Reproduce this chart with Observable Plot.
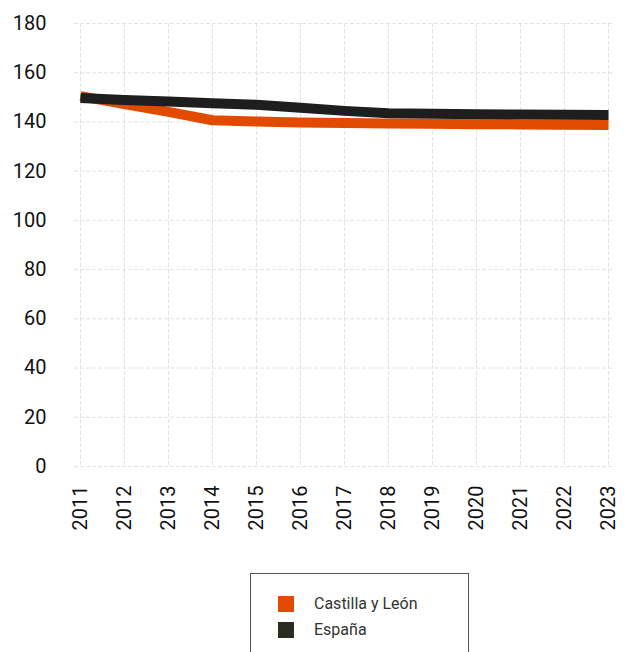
<!DOCTYPE html>
<html>
<head>
<meta charset="utf-8">
<script src="https://cdn.jsdelivr.net/npm/d3@7"></script>
<script src="https://cdn.jsdelivr.net/npm/@observablehq/plot@0.6"></script>
<style>
  html, body { margin: 0; padding: 0; background: #fff; overflow: hidden; }
  body { width: 625px; height: 652px; font-family: Roboto, "Noto Sans", sans-serif; }
  #chart svg { display: block; overflow: visible; }
  #legend {
    position: absolute; left: 250px; top: 573px; width: 219px; height: 100px;
    border: 1px solid #555; box-sizing: border-box; background: #fff;
  }
  .item { position: absolute; left: 27px; display: flex; align-items: center; font-size: 16px; color: #333; }
  .sw { width: 16px; height: 16px; margin-right: 20px; }
</style>
</head>
<body>
<div id="chart"></div>
<div id="legend"></div>
<script>
const years = [2011, 2012, 2013, 2014, 2015, 2016, 2017, 2018, 2019, 2020, 2021, 2022, 2023];
const castillaYLeon = [150.5, 147.3, 144.1, 140.7, 140.2, 139.8, 139.6, 139.4, 139.3, 139.1, 139.0, 138.9, 138.8];
const espana = [149.7, 148.9, 148.3, 147.6, 147.0, 145.8, 144.5, 143.5, 143.3, 143.1, 143.0, 142.9, 142.8];
const seriesNames = ["Castilla y León", "España"];
const lineColors = ["#e24a00", "#1e1e1e"];
const swatchColors = ["#e24a00", "#2c2b20"];
const yTicks = [0, 20, 40, 60, 80, 100, 120, 140, 160, 180];

const rows = [];
[castillaYLeon, espana].forEach((vals, si) => {
  vals.forEach((v, i) => rows.push({year: years[i], value: v, series: seriesNames[si]}));
});

const plot = Plot.plot({
  width: 625,
  height: 545,
  marginLeft: 74,
  marginRight: 12,
  marginTop: 23,
  marginBottom: 79,
  style: {fontFamily: "Roboto, sans-serif", background: "#fff", overflow: "visible"},
  x: {type: "point", domain: years, padding: 0, label: null},
  y: {domain: [0, 180], label: null},
  color: {domain: seriesNames, range: lineColors},
  marks: [
    Plot.gridX(years, {stroke: "#e3e3e3", strokeOpacity: 1, strokeDasharray: "4,2"}),
    Plot.gridY(yTicks, {stroke: "#e3e3e3", strokeOpacity: 1, strokeDasharray: "4,2"}),
    Plot.axisY(yTicks, {tickSize: 0, tickPadding: 28, fontSize: 20, fill: "#111", label: null}),
    Plot.axisX(years, {tickSize: 0, tickPadding: 19, tickRotate: -90, fontSize: 20, fill: "#111", label: null, tickFormat: d => String(d)}),
    Plot.line(rows, {x: "year", y: "value", z: "series", stroke: "series", strokeWidth: 10, strokeLinejoin: "round", strokeLinecap: "butt"})
  ]
});
document.getElementById("chart").appendChild(plot);

const legend = document.getElementById("legend");
seriesNames.forEach((name, i) => {
  const it = document.createElement("div");
  it.className = "item";
  it.style.top = (20 + i * 26) + "px";
  const sw = document.createElement("div");
  sw.className = "sw";
  sw.style.background = swatchColors[i];
  const tx = document.createElement("span");
  tx.textContent = name;
  it.appendChild(sw); it.appendChild(tx);
  legend.appendChild(it);
});
</script>
</body>
</html>
